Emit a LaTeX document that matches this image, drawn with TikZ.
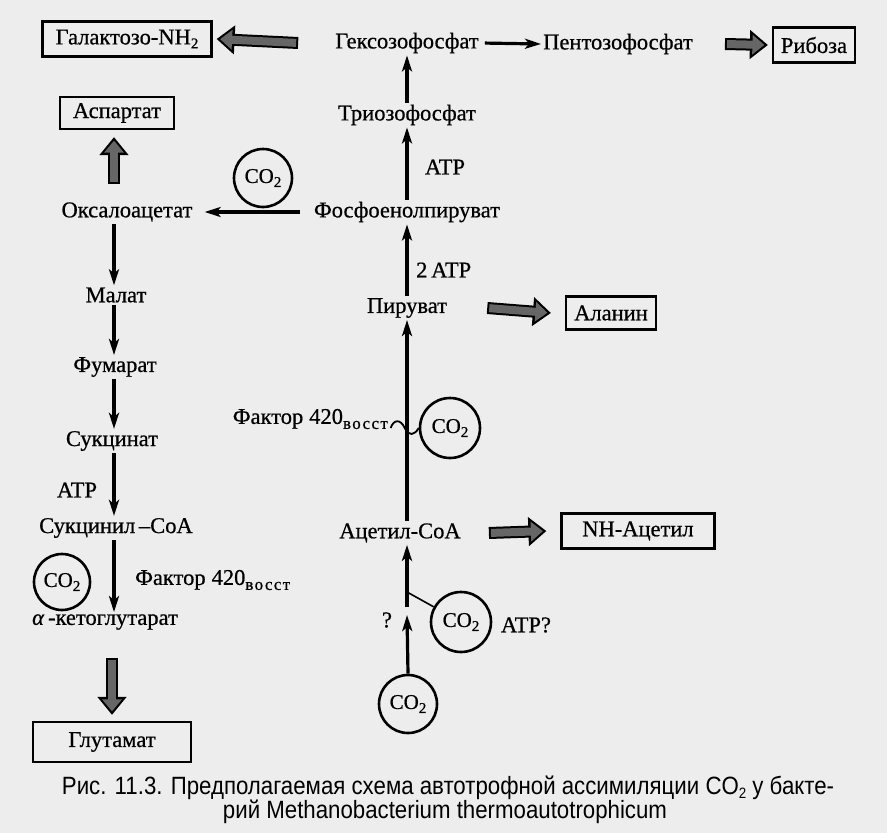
\documentclass[tikz,border=0pt]{standalone}
\usepackage{fontspec}
\setmainfont{Liberation Serif}
\newfontfamily\lblfont[FakeBold=0.7]{Liberation Serif}
\newfontfamily\capfont[FakeStretch=0.89]{Liberation Sans}
\usetikzlibrary{arrows.meta,calc}
\newcommand\subs[1]{\raisebox{-4pt}{\fontsize{15}{15}\selectfont #1}}
\newcommand\vosst{\raisebox{-5pt}{\fontsize{17}{17}\selectfont\addfontfeature{LetterSpace=8}восст}}
\tikzset{
 lbl/.style={inner sep=2pt, font=\lblfont\fontsize{22.5}{22.5}\selectfont},
 boxed/.style={lbl, draw, line width=2.2pt, inner xsep=6pt},
 co2/.style={circle, draw, line width=2.6pt, minimum size=58pt, inner sep=0pt, font=\lblfont\fontsize{21}{21}\selectfont},
 thinarr/.style={line width=3.2pt, -{Stealth[length=16pt,width=10pt,inset=4pt]}},
 thinline/.style={line width=1.6pt},
 fatout/.style={line width=12pt, -{Triangle[length=18pt,width=28pt]}},
 fatin/.style={line width=8pt, draw=black!60, -{Triangle[length=12pt,width=19pt]}, shorten >=3.5pt, shorten <=2pt},
}
\newcommand\fatarrow[2]{\draw[fatout] #1 -- #2; \draw[fatin] #1 -- #2;}
\begin{document}
\begin{tikzpicture}[x=1pt,y=-1pt]
\useasboundingbox (0,0) rectangle (887,833);
\fill[black!7] (0,0) rectangle (887,833);
\coordinate (lx) at (114,0);
\coordinate (cx) at (407,0);
% top row
\node[boxed, minimum width=169pt, minimum height=35pt] (galakt) at (127,39) {Галактозо-NH\subs{2}};
\node[lbl] (hexo) at (407,43) {Гексозофосфат};
\node[lbl] (pento) at (618,44) {Пентозофосфат};
\node[boxed, minimum width=82pt, minimum height=35pt] (ribose) at (814,45) {Рибоза};
\node[lbl] (trio) at (407,115) {Триозофосфат};
\node[boxed, minimum width=114pt, minimum height=32pt] (aspart) at (117,113) {Аспартат};
\node[co2, minimum size=58pt] (co2a) at (263,178) {CO\subs{2}};
\node[lbl] (atp1) at (445,167) {ATP};
\node[lbl] (oxalo) at (127,212) {Оксалоацетат};
\node[lbl] (pep) at (407,212) {Фосфоенолпируват};
\node[lbl] (malat) at (116,295) {Малат};
\node[lbl] (fumar) at (115,367) {Фумарат};
\node[lbl] (succ) at (112,441) {Сукцинат};
\node[lbl] (atp2) at (77,490) {ATP};
\node[lbl] (succoa) at (116,528) {Сукцинил\,–CoA};
\node[co2, minimum size=56pt] (co2b) at (62,582) {CO\subs{2}};
\node[lbl, anchor=west] (factor1) at (133,580) {Фактор\hspace{6pt}420\vosst};
\node[lbl] (akg) at (105,622) {\textit{α}\,-кетоглутарат};
\node[boxed, minimum width=158pt, minimum height=40pt] (glut) at (112,742) {Глутамат};
% centre column
\node[lbl, anchor=west] (atp3) at (414,270) {2\,ATP};
\node[lbl] (piruv) at (407,308) {Пируват};
\node[boxed, minimum width=90pt, minimum height=33pt] (alanin) at (611,313) {Аланин};
\node[lbl, anchor=east] (factor2) at (390,419) {Фактор\hspace{6pt}420\vosst};
\node[co2, minimum size=60pt] (co2c) at (450,428) {CO\subs{2}};
\node[lbl] (acetyl) at (400,533) {Ацетил-CoA};
\node[boxed, minimum width=153pt, minimum height=35pt] (nhacetyl) at (638,531) {NH-Ацетил};
\node[lbl] (q) at (387,620) {?};
\node[co2, minimum size=60pt] (co2d) at (461,622) {CO\subs{2}};
\node[lbl] (atpq) at (526,625) {ATP?};
\node[co2, minimum size=58pt] (co2e) at (408,704) {CO\subs{2}};
% caption
\node[inner sep=0pt, font=\capfont\fontsize{25}{25}\selectfont] (cap1) at (448,788) {Рис. 11.3. Предполагаемая схема автотрофной ассимиляции CO\subs{2} у бакте-};
\node[inner sep=0pt, font=\capfont\fontsize{25}{25}\selectfont] (cap2) at (445,812) {рий Methanobacterium thermoautotrophicum};
% thin arrows, centre
\draw[thinarr] (trio.north -| cx) -- (hexo.south -| cx);
\draw[thinarr] (pep.north -| cx) -- (trio.south -| cx);
\draw[thinarr] (piruv.north -| cx) -- (pep.south -| cx);
\draw[thinarr] (acetyl.north -| cx) -- (piruv.south -| cx);
\draw[thinarr, shorten <=4pt] (hexo.east) -- (pento.west);
\draw[thinarr, shorten <=12pt, shorten >=10pt] (pep.west) -- (oxalo.east);
\coordinate (gap) at (407,607);
\coordinate (gapb) at (407,615);
\draw[thinarr] (gap) -- (acetyl.south -| cx);
\draw[thinarr] (co2e.north) -- (gapb);
\coordinate (j1) at (407,592);
\draw[thinline] (j1) -- (co2d);
\draw[line width=1.8pt] ([xshift=-28pt]co2c.west) .. controls +(3,-9) and +(-4,-9) .. ([xshift=-14pt]co2c.west) .. controls +(4,9) and +(-4,7) .. (co2c.west);
% thin arrows, left
\draw[thinarr] (oxalo.south -| lx) -- (malat.north -| lx);
\draw[thinarr] (malat.south -| lx) -- (fumar.north -| lx);
\draw[thinarr] (fumar.south -| lx) -- (succ.north -| lx);
\draw[thinarr] (succ.south -| lx) -- (succoa.north -| lx);
\draw[thinarr] (succoa.south -| lx) -- (akg.north -| lx);
% fat arrows
\fatarrow{([xshift=-35pt]hexo.west)}{([xshift=4pt]galakt.east)}
\fatarrow{([xshift=30pt]pento.east)}{([xshift=-4pt]ribose.west)}
\fatarrow{([yshift=16pt]oxalo.north -| lx)}{([yshift=-7pt]aspart.south -| lx)}
\fatarrow{([xshift=38pt]piruv.east)}{([xshift=-14pt]alanin.west)}
\fatarrow{([xshift=26pt]acetyl.east)}{([xshift=-14pt]nhacetyl.west)}
\fatarrow{([yshift=-26pt]akg.south -| glut)}{([yshift=6pt]glut.north)}
\end{tikzpicture}
\end{document}
